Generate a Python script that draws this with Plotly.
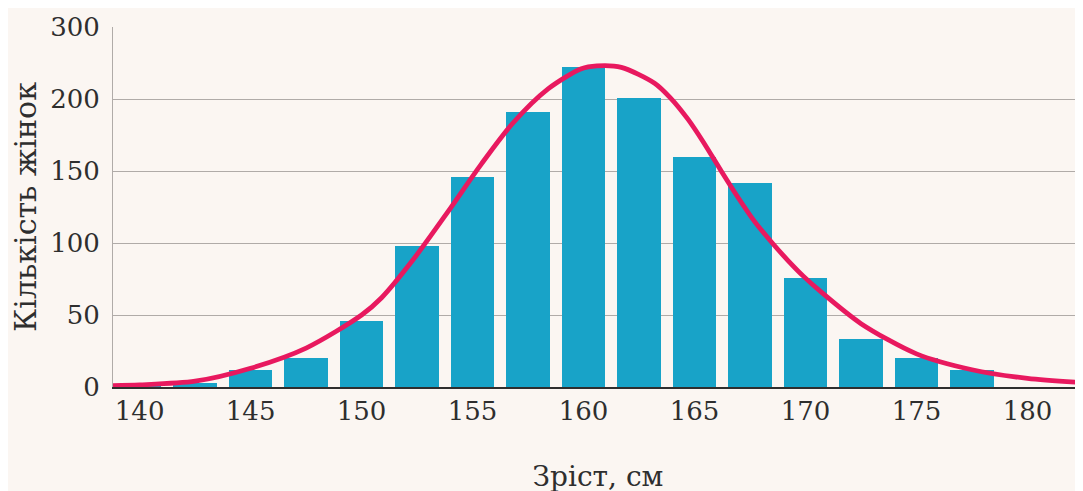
import plotly.graph_objects as go

# Histogram data: height class centres (cm) and number of women
heights = [140, 142.5, 145, 147.5, 150, 152.5, 155, 157.5, 160, 162.5, 165, 167.5, 170, 172.5, 175, 177.5]
counts = [2, 3, 12, 20, 46, 98, 146, 191, 222, 201, 160, 142, 76, 33, 20, 12]

# Fitted curve, points
curve_x = [138.8, 140, 142.5, 145, 147.5, 150, 150.9, 152.3, 153.9, 155.4, 156.8, 158.4, 159.9, 160.6,
           161.7, 163.2, 163.9, 164.7, 165.4, 166.2, 166.9, 167.7, 168.5, 169.2, 169.9, 170.7,
           172.5, 175, 177.5, 180, 182.5]
curve_y = [1, 1.5, 4, 13, 27, 50, 62, 88, 122, 155, 183, 207, 221, 223,
           222, 211, 201, 186, 170, 150, 133, 115, 100, 88, 77, 66,
           44, 23, 12, 6, 3]

# Y tick labels as printed (top label reads 300)
y_tickvals = [0, 50, 100, 150, 200, 250]
y_ticktext = ["0", "50", "100", "150", "200", "300"]
x_tickvals = [140, 145, 150, 155, 160, 165, 170, 175, 180]

BG = "#fbf6f2"
FONT = "DejaVu Serif"
TXT = "#2e2e2e"

fig = go.Figure()
fig.add_trace(go.Bar(x=heights, y=counts, width=1.95,
                     marker=dict(color="#18a3c8", line=dict(width=0)),
                     showlegend=False))
fig.add_trace(go.Scatter(x=curve_x, y=curve_y, mode="lines",
                         line=dict(color="#e8195f", width=4.8, shape="spline", smoothing=0.8),
                         showlegend=False))

fig.update_layout(
    width=1083, height=491,
    margin=dict(l=105, r=8, t=19, b=112),
    paper_bgcolor=BG, plot_bgcolor=BG,
    font=dict(family=FONT, color=TXT, size=26),
    bargap=0,
    xaxis=dict(range=[138.8, 182.5], tickvals=x_tickvals, showgrid=False,
               showline=True, linecolor=TXT, linewidth=2, ticks="",
               tickfont=dict(size=26, family=FONT, color=TXT),
               title=dict(text="Зріст, см", font=dict(size=28, family=FONT, color=TXT), standoff=41),
               zeroline=False, fixedrange=True, automargin=False),
    yaxis=dict(range=[0, 250], tickvals=y_tickvals, ticktext=y_ticktext,
               showgrid=True, gridcolor="#b0aba8", gridwidth=1,
               showline=True, linecolor="#b0aba8", linewidth=1, ticks="",
               ticklabelstandoff=7,
               tickfont=dict(size=26, family=FONT, color=TXT),
               title=dict(text="Кількість жінок", font=dict(size=30, family=FONT, color=TXT), standoff=4),
               zeroline=False, fixedrange=True, automargin=False),
)

fig.write_html("out.html")
